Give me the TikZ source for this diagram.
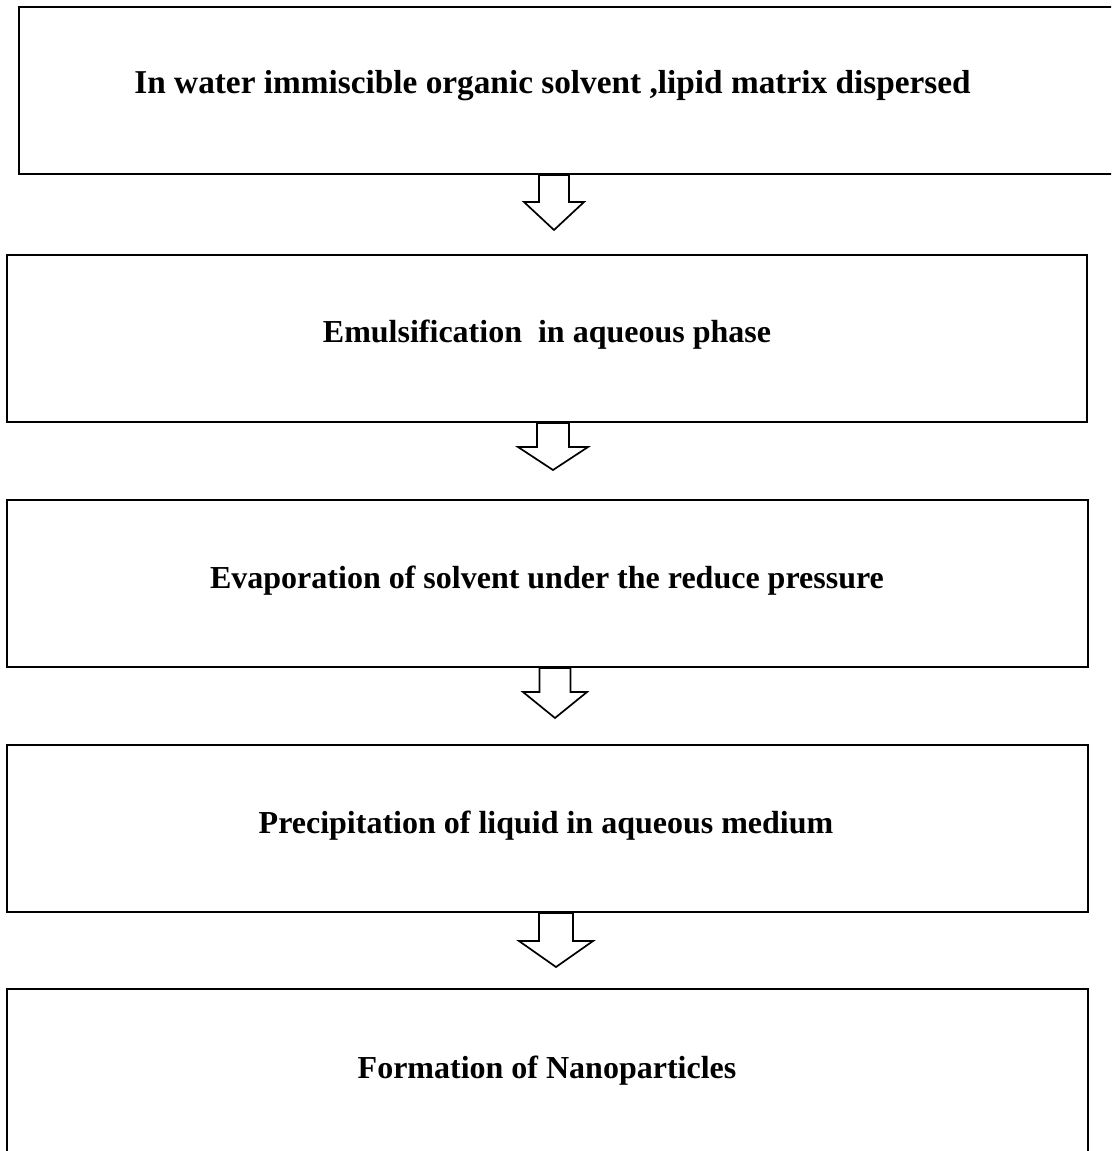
\documentclass[tikz,border=0pt]{standalone}
\usepackage{fontspec}
\setmainfont{Liberation Serif}
\begin{document}
\begin{tikzpicture}[x=1pt,y=-1pt,
  box/.style={draw=black,line width=2.3pt,rectangle,inner sep=0pt},
  txt/.style={anchor=base,inner sep=0pt,font=\fontsize{32}{38}\selectfont\bfseries},
  arr/.style={draw=black,fill=white,line width=1.7pt,line join=miter}]
\useasboundingbox (0,0) rectangle (1111,1151);
\clip (0,0) rectangle (1111,1151);
\newcommand\flowarrow[6]{\draw[arr] ({#1-#5},#2) -- ({#1+#5},#2) -- ({#1+#5},#3) -- ({#1+#6},#3) -- (#1,#4) -- ({#1-#6},#3) -- ({#1-#5},#3) -- cycle;}
% arrows
\flowarrow{554}{175}{202}{230}{15}{30}
\flowarrow{553}{423}{447}{470}{16}{35}
\flowarrow{555}{668}{692}{718}{15.5}{32}
\flowarrow{556}{913}{941}{967}{17}{37}
% boxes
\node[box,minimum width=1106pt,minimum height=167pt] (b1) at (572,90.5) {};
\node[box,minimum width=1080pt,minimum height=167pt] (b2) at (547,338.5) {};
\node[box,minimum width=1081pt,minimum height=167pt] (b3) at (547.5,583.5) {};
\node[box,minimum width=1081pt,minimum height=167pt] (b4) at (547.5,828.5) {};
\node[box,minimum width=1081pt,minimum height=181pt] (b5) at (547.5,1079.5) {};
% texts
\node[txt,font=\fontsize{33.3}{40}\selectfont\bfseries] (t1) at (552.5,93) {In water immiscible organic solvent ,lipid matrix dispersed};
\node[txt] (t2) at (547,342) {Emulsification\ \ in aqueous phase};
\node[txt] (t3) at (547,588) {Evaporation of solvent under the reduce pressure};
\node[txt] (t4) at (546,833) {Precipitation of liquid in aqueous medium};
\node[txt] (t5) at (547,1078) {Formation of Nanoparticles};
\end{tikzpicture}
\end{document}
